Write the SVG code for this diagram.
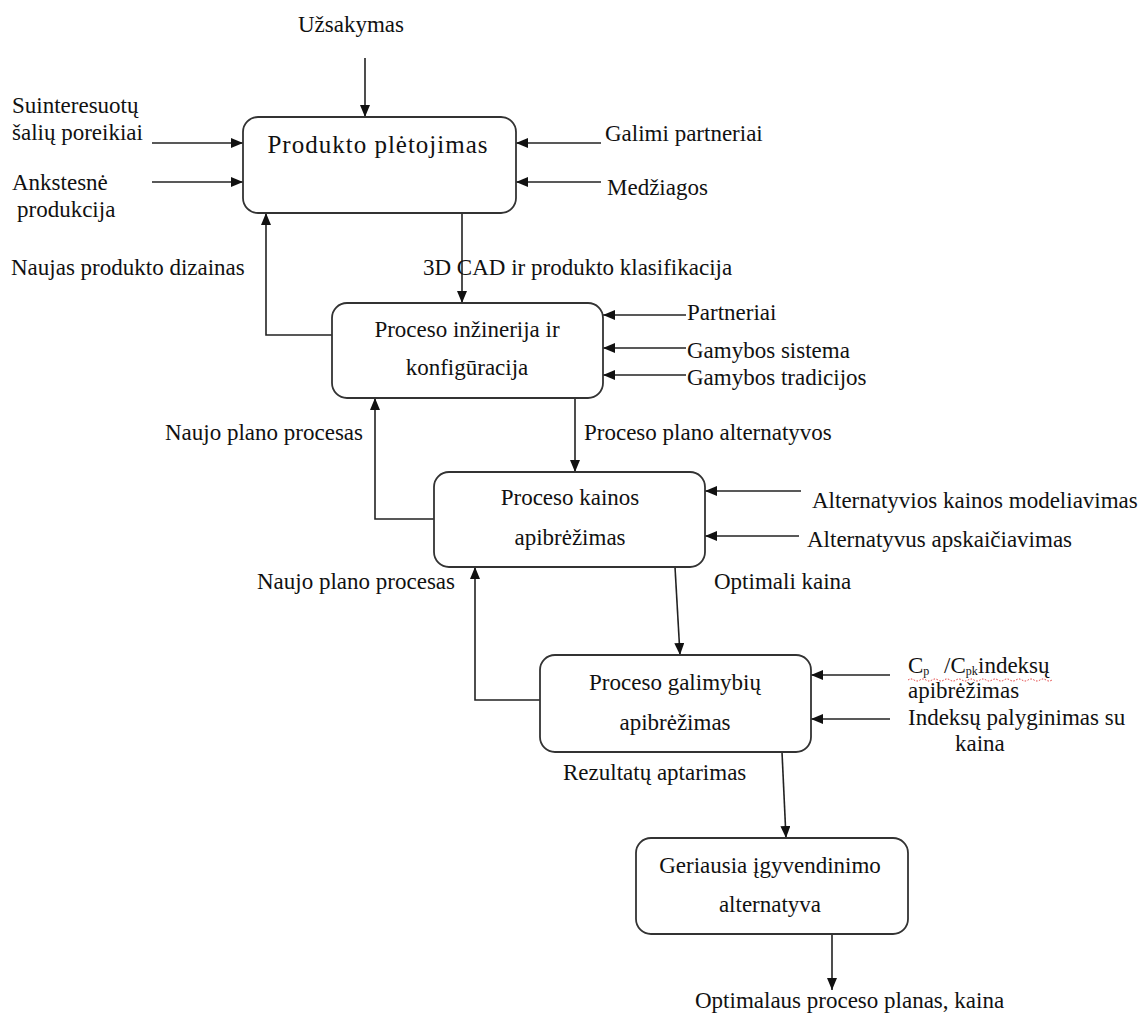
<svg xmlns="http://www.w3.org/2000/svg" width="1142" height="1016" viewBox="0 0 1142 1016">
  <style>
    text { font-family: "Liberation Serif", "Times New Roman", serif; font-size: 23px; fill: #111; }
    .mid { text-anchor: middle; }
    .title { font-size: 25px; letter-spacing: 1px; }
    .box { fill: #fff; stroke: #333; stroke-width: 1.8; }
    .flow { fill: none; stroke: #222; stroke-width: 1.6; marker-end: url(#head); }
    .sub { font-size: 12px; }
  </style>
  <defs>
    <marker id="head" markerUnits="userSpaceOnUse" markerWidth="13" markerHeight="11" refX="12" refY="5" orient="auto">
      <path d="M0,0 L12,5 L0,10 z" fill="#111"/>
    </marker>
  </defs>
  <rect width="1142" height="1016" fill="#fff"/>

  <!-- connectors -->
  <g id="connectors">
    <line class="flow" x1="365" y1="58" x2="365" y2="117"/>
    <line class="flow" x1="152" y1="143" x2="243" y2="143"/>
    <line class="flow" x1="152" y1="182" x2="243" y2="182"/>
    <line class="flow" x1="601" y1="143" x2="516" y2="143"/>
    <line class="flow" x1="601" y1="182" x2="516" y2="182"/>
    <line class="flow" x1="462" y1="213" x2="462" y2="303"/>
    <polyline class="flow" points="332,335 266,335 266,213"/>
    <line class="flow" x1="686" y1="315" x2="603" y2="315"/>
    <line class="flow" x1="686" y1="348" x2="603" y2="348"/>
    <line class="flow" x1="686" y1="375" x2="603" y2="375"/>
    <line class="flow" x1="575" y1="398" x2="575" y2="472"/>
    <polyline class="flow" points="434,519 375,519 375,398"/>
    <line class="flow" x1="801" y1="491" x2="705" y2="491"/>
    <line class="flow" x1="799" y1="536" x2="705" y2="536"/>
    <line class="flow" x1="675" y1="567" x2="680" y2="655"/>
    <polyline class="flow" points="540,700 475,700 475,567"/>
    <line class="flow" x1="890" y1="675" x2="811" y2="675"/>
    <line class="flow" x1="890" y1="719" x2="811" y2="719"/>
    <line class="flow" x1="782" y1="752" x2="786" y2="838"/>
    <line class="flow" x1="832" y1="934" x2="832" y2="990"/>
  </g>

  <!-- process boxes -->
  <g id="produkto-pletojimas">
    <rect class="box" x="243" y="117" width="273" height="96" rx="15"/>
    <text class="mid title" x="378" y="153">Produkto plėtojimas</text>
  </g>
  <g id="proceso-inzinerija">
    <rect class="box" x="332" y="303" width="271" height="95" rx="15"/>
    <text class="mid" x="467" y="337">Proceso inžinerija ir</text>
    <text class="mid" x="467" y="375">konfigūracija</text>
  </g>
  <g id="proceso-kainos">
    <rect class="box" x="434" y="472" width="271" height="95" rx="15"/>
    <text class="mid" x="570" y="505">Proceso kainos</text>
    <text class="mid" x="570" y="545">apibrėžimas</text>
  </g>
  <g id="proceso-galimybiu">
    <rect class="box" x="540" y="655" width="271" height="97" rx="15"/>
    <text class="mid" x="675" y="690">Proceso galimybių</text>
    <text class="mid" x="675" y="730">apibrėžimas</text>
  </g>
  <g id="geriausia-alternatyva">
    <rect class="box" x="636" y="838" width="272" height="96" rx="15"/>
    <text class="mid" x="770" y="873">Geriausia įgyvendinimo</text>
    <text class="mid" x="770" y="912">alternatyva</text>
  </g>

  <!-- flow labels -->
  <g id="labels">
    <text class="mid" x="351" y="32">Užsakymas</text>
    <text x="12" y="113">Suinteresuotų</text>
    <text x="12" y="140">šalių poreikiai</text>
    <text x="12" y="190">Ankstesnė</text>
    <text x="17" y="217">produkcija</text>
    <text x="605" y="141">Galimi partneriai</text>
    <text x="607" y="195">Medžiagos</text>
    <text x="11" y="275">Naujas produkto dizainas</text>
    <text x="423" y="275">3D CAD ir produkto klasifikacija</text>
    <text x="687" y="320">Partneriai</text>
    <text x="687" y="358">Gamybos sistema</text>
    <text x="687" y="385">Gamybos tradicijos</text>
    <text x="165" y="440">Naujo plano procesas</text>
    <text x="584" y="440">Proceso plano alternatyvos</text>
    <text x="812" y="508">Alternatyvios kainos modeliavimas</text>
    <text x="807" y="547">Alternatyvus apskaičiavimas</text>
    <text x="257" y="589">Naujo plano procesas</text>
    <text x="714" y="589">Optimali kaina</text>
    <text x="908" y="673">C<tspan class="sub" dy="2">p</tspan><tspan x="944" dy="-2">/C</tspan><tspan class="sub" dy="2">pk</tspan><tspan x="978" dy="-2">indeksų</tspan></text>
    <path d="M908,680 q3,-2 6,0 t6,0 t6,0 t6,0 t6,0 t6,0 t6,0 t6,0 t6,0 t6,0 t6,0 t6,0 t6,0 t6,0 t6,0 t6,0 t6,0 t6,0 t6,0 t6,0 t6,0 t6,0 t6,0 t6,0" fill="none" stroke="#e03030" stroke-width="1" stroke-dasharray="1.5,1.5"/>
    <text x="908" y="698">apibrėžimas</text>
    <text x="908" y="725">Indeksų palyginimas su</text>
    <text x="955" y="751">kaina</text>
    <text x="563" y="780">Rezultatų aptarimas</text>
    <text x="695" y="1008">Optimalaus proceso planas, kaina</text>
  </g>
</svg>
